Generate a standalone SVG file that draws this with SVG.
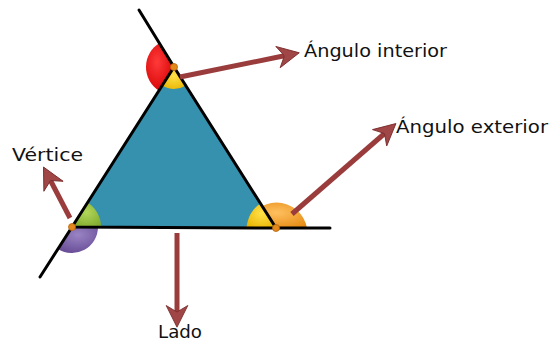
<svg xmlns="http://www.w3.org/2000/svg" width="550" height="347" viewBox="0 0 550 347">
  <defs>
    <style>
      .lbl { font-family: "DejaVu Sans", "Liberation Sans", sans-serif; font-size: 18.5px; fill: #111; }
      .edge { stroke: #000; stroke-width: 3; fill: none; stroke-linecap: round; }
      .shaft { stroke: #9a3c3c; stroke-width: 5; fill: none; }
      .dot { fill: #e3891c; stroke: #b8650e; stroke-width: 0.8; }
    </style>
    <marker id="head" markerUnits="userSpaceOnUse" markerWidth="26" markerHeight="26" viewBox="-1 -12 24 24" refX="6" refY="0" orient="auto">
      <path d="M0,-10 L20,0 L0,10 L6,0 Z" fill="#a04646" stroke="#7a2c2c" stroke-width="0.8"/>
    </marker>
    <radialGradient id="gRed" cx="0.4" cy="0.4" r="0.7">
      <stop offset="0" stop-color="#ff3a3a"/><stop offset="1" stop-color="#d40000"/>
    </radialGradient>
    <radialGradient id="gYel" cx="0.5" cy="0.4" r="0.7">
      <stop offset="0" stop-color="#ffe14a"/><stop offset="1" stop-color="#e8b400"/>
    </radialGradient>
    <radialGradient id="gGrn" cx="0.5" cy="0.4" r="0.7">
      <stop offset="0" stop-color="#b2d65a"/><stop offset="1" stop-color="#7faa2c"/>
    </radialGradient>
    <radialGradient id="gPur" cx="0.5" cy="0.3" r="0.7">
      <stop offset="0" stop-color="#9a84c4"/><stop offset="1" stop-color="#6a4f98"/>
    </radialGradient>
    <radialGradient id="gOra" cx="0.5" cy="0.4" r="0.7">
      <stop offset="0" stop-color="#ffc060"/><stop offset="1" stop-color="#e58a10"/>
    </radialGradient>
  </defs>

  <g id="triangle">
    <polygon points="174,67 72,227 276,228" fill="#3591ad"/>
  </g>

  <g id="angles">
    <!-- top exterior (red) -->
    <path d="M174,67 L159.7,42.9 A28,28 0 0 0 159.1,90.7 Z" fill="url(#gRed)"/>
    <!-- top interior (yellow) -->
    <path d="M174,67 L162.3,85.6 A22,22 0 0 0 185.5,85.8 Z" fill="url(#gYel)"/>
    <!-- bottom-left interior (green) -->
    <path d="M72,227 L87.5,202.5 A29,29 0 0 1 101,227 Z" fill="url(#gGrn)"/>
    <!-- bottom-left exterior (purple) -->
    <path d="M72,227 L98,227 A26,26 0 0 1 58,248.9 Z" fill="url(#gPur)"/>
    <!-- bottom-right exterior (orange half disc) -->
    <path d="M246,228 A31,31 0 0 1 307,228 Z" fill="url(#gOra)"/>
    <!-- bottom-right interior (yellow) -->
    <path d="M276,228 L247,228 A29,29 0 0 1 260.5,203.5 Z" fill="url(#gYel)"/>
  </g>

  <g id="sides">
    <polygon points="174,67 72,227 276,228" class="edge" stroke-linejoin="round"/>
    <line x1="139" y1="10" x2="174" y2="67" class="edge"/>
    <line x1="72" y1="227" x2="40" y2="277" class="edge"/>
    <line x1="276" y1="228" x2="330" y2="228" class="edge"/>
  </g>

  <g id="vertices">
    <circle cx="174" cy="67" r="3.5" class="dot"/>
    <circle cx="72" cy="227" r="3.5" class="dot"/>
    <circle cx="276" cy="228" r="3.5" class="dot"/>
  </g>

  <g id="connectors">
    <line x1="180" y1="77" x2="284.4" y2="55.8" class="shaft" marker-end="url(#head)"/>
    <line x1="292" y1="214" x2="384.5" y2="133.5" class="shaft" marker-end="url(#head)"/>
    <line x1="70" y1="218" x2="50.5" y2="180.5" class="shaft" marker-end="url(#head)"/>
    <line x1="177" y1="233" x2="177" y2="312" class="shaft" marker-end="url(#head)"/>
  </g>

  <g id="label-interior"><text class="lbl" x="304" y="57" textLength="143" lengthAdjust="spacingAndGlyphs">Ángulo interior</text></g>
  <g id="label-exterior"><text class="lbl" x="396" y="133" textLength="152" lengthAdjust="spacingAndGlyphs">Ángulo exterior</text></g>
  <g id="label-vertice"><text class="lbl" x="12" y="161" textLength="71" lengthAdjust="spacingAndGlyphs">Vértice</text></g>
  <g id="label-lado"><text class="lbl" x="158" y="338" textLength="44" lengthAdjust="spacingAndGlyphs">Lado</text></g>
</svg>
